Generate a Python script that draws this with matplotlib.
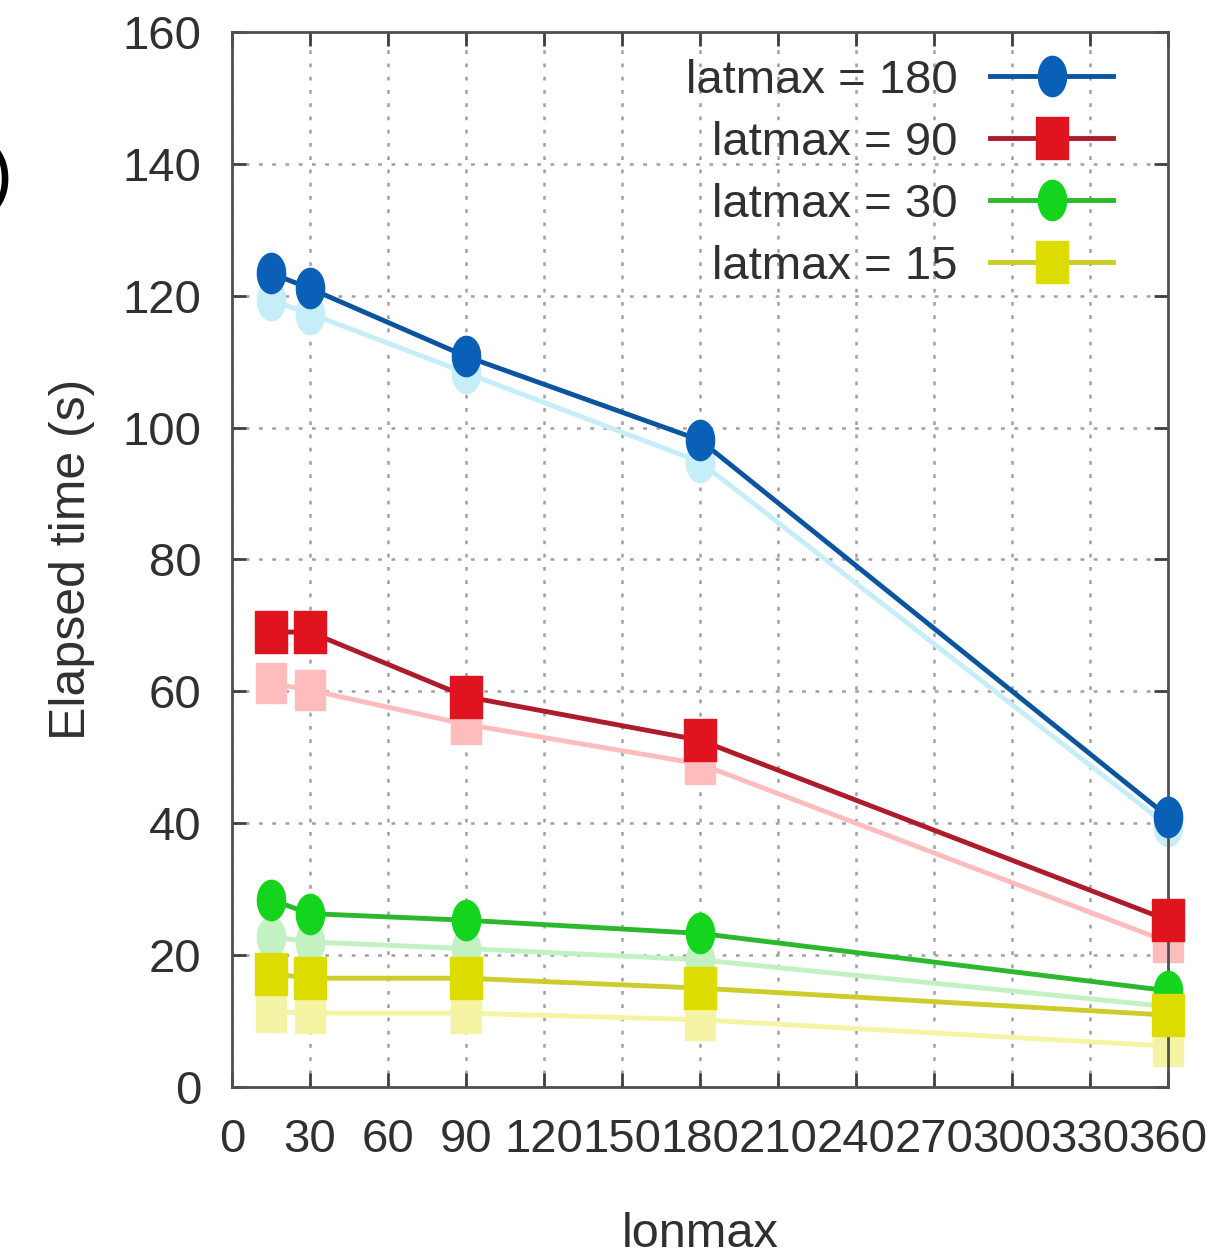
import numpy as np
import matplotlib
matplotlib.use("Agg")
import matplotlib.pyplot as plt
from matplotlib.path import Path

plt.rcParams['font.family'] = ['Liberation Sans Narrow', 'Liberation Sans', 'DejaVu Sans']

lonmax = [15, 30, 90, 180, 360]
labels = ["latmax = 180", "latmax = 90", "latmax = 30", "latmax = 15"]
t180 = [123.4, 121.1, 110.8, 98.1, 41.0]
t90 = [69.0, 69.0, 59.2, 52.6, 25.3]
t30 = [28.4, 26.3, 25.3, 23.3, 14.6]
t15 = [17.2, 16.5, 16.5, 15.0, 10.9]
# faint (lighter) companion series
f180 = [119.3, 117.3, 108.3, 94.8, 39.6]
f90 = [61.2, 60.2, 55.0, 49.0, 22.0]
f30 = [22.8, 22.0, 21.0, 19.3, 12.2]
f15 = [11.4, 11.2, 11.2, 10.2, 6.2]

xticks = list(range(0, 361, 30))
yticks = list(range(0, 161, 20))

# tall ellipse and tall rectangle markers
th = np.linspace(0, 2 * np.pi, 60)
ellipse = Path(np.column_stack([0.7 * np.cos(th), np.sin(th)]))
rect = Path([(-0.75, -1), (0.75, -1), (0.75, 1), (-0.75, 1), (-0.75, -1)],
            [Path.MOVETO, Path.LINETO, Path.LINETO, Path.LINETO, Path.CLOSEPOLY])

fig = plt.figure(figsize=(12.11, 12.58), dpi=100)
ax = fig.add_axes([0.1916, 0.1359, 0.9645 - 0.1916, 0.9746 - 0.1359])

faint = [(f180, '#c6eef8', ellipse), (f90, '#ffbcbc', rect),
         (f30, '#c2f2c2', ellipse), (f15, '#f4f4a4', rect)]
for vals, c, m in faint:
    ax.plot(lonmax, vals, color=c, lw=3.5, marker=m, markersize=29,
            markerfacecolor=c, markeredgecolor=c, zorder=2, clip_on=False)

main = [(t180, '#0b559e', '#0a60b6', ellipse, 29),
        (t90, '#ad1c2a', '#e0141e', rect, 30),
        (t30, '#2cb82c', '#14d41e', ellipse, 29),
        (t15, '#cccc2a', '#dcdc00', rect, 30)]
for (vals, lc, mc, m, ms), lab in zip(main, labels):
    ax.plot(lonmax, vals, color=lc, lw=3.5, marker=m, markersize=ms,
            markerfacecolor=mc, markeredgecolor=mc, label=lab, zorder=3, clip_on=False)

ax.set_xlim(0, 360)
ax.set_ylim(0, 160)
ax.set_xticks(xticks)
ax.set_yticks(yticks)
ax.tick_params(direction='in', length=10, width=2, colors='#404040',
               labelsize=34, labelcolor='#303030', top=True, right=True)
ax.tick_params(axis='y', pad=22)
ax.tick_params(axis='x', pad=22)
for s in ax.spines.values():
    s.set_color('#505050')
    s.set_linewidth(2)
ax.grid(True, color='#a0a0a0', lw=1.8, linestyle=(0, (1.5, 3.8)))
ax.set_axisbelow(True)

ax.set_xlabel('lonmax', fontsize=35, color='#303030', labelpad=36)
ax.set_ylabel('Elapsed time (s)', fontsize=36, color='#303030', labelpad=20)

leg = ax.legend(loc='upper right', frameon=False, markerfirst=False,
                fontsize=34, handlelength=2.6, labelspacing=0.38,
                borderaxespad=0.0, handletextpad=0.7,
                bbox_to_anchor=(1 - 36 / 936, 1 - 8 / 1055))
for t in leg.get_texts():
    t.set_color('#303030')
    t.set_ha('right')

fig.text(0.010, 0.858, ')', fontsize=54, ha='right', va='center', color='black')

fig.savefig('out.png', dpi=100, facecolor='white')
